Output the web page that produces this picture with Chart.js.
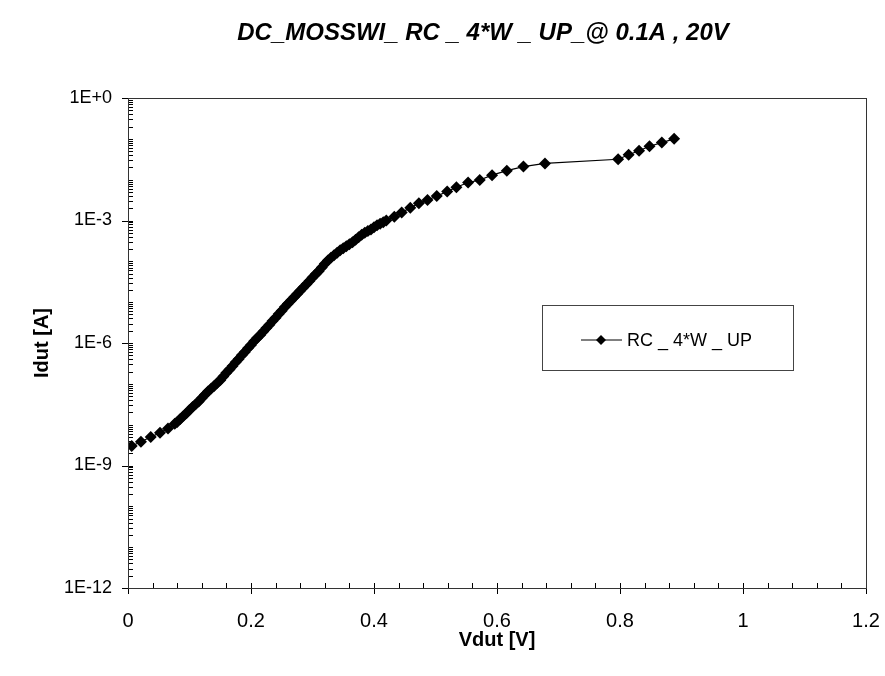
<!DOCTYPE html>
<html>
<head>
<meta charset="utf-8">
<script src="https://cdn.jsdelivr.net/npm/chart.js@4/dist/chart.umd.min.js"></script>
<style>
  body { margin: 0; background: #fff; }
  canvas { display: block; }
</style>
</head>
<body>
<canvas id="chart" width="885" height="676"></canvas>
<script>
const chartTitle = 'DC_MOSSWI_ RC _ 4*W _ UP_@ 0.1A , 20V';
const seriesName = 'RC _ 4*W _ UP';

// Vdut [V]
const vdut = [
  0.006, 0.021, 0.037, 0.052, 0.065, 0.076,
  0.080, 0.085, 0.090, 0.095, 0.100, 0.105, 0.110, 0.115, 0.120, 0.125,
  0.130, 0.135, 0.140, 0.145, 0.150, 0.155, 0.160, 0.165, 0.170, 0.175,
  0.180, 0.185, 0.190, 0.195, 0.200, 0.205, 0.210, 0.215, 0.220, 0.225,
  0.230, 0.235, 0.240, 0.245, 0.250, 0.255, 0.260, 0.265, 0.270, 0.275,
  0.280, 0.285, 0.290, 0.295, 0.300, 0.305, 0.310, 0.315, 0.320, 0.325,
  0.330, 0.335, 0.340, 0.345, 0.350, 0.355, 0.360, 0.365, 0.370, 0.375,
  0.380, 0.385, 0.390, 0.395, 0.400, 0.405, 0.410, 0.415, 0.420,
  0.433, 0.445, 0.459, 0.473, 0.487, 0.502, 0.519, 0.534, 0.553, 0.572,
  0.592, 0.616, 0.643, 0.678, 0.797, 0.814, 0.831, 0.848, 0.868, 0.888
];

// Idut [A]
const idut = [
  3.0e-9, 3.8e-9, 5.0e-9, 6.3e-9, 8.1e-9, 1.05e-8,
  1.17e-8, 1.38e-8, 1.62e-8, 1.9e-8, 2.29e-8, 2.7e-8, 3.16e-8, 3.7e-8, 4.47e-8, 5.4e-8,
  6.46e-8, 7.6e-8, 8.9e-8, 1.05e-7, 1.23e-7, 1.51e-7, 1.86e-7, 2.24e-7, 2.75e-7, 3.4e-7,
  4.07e-7, 5.0e-7, 6.0e-7, 7.4e-7, 8.9e-7, 1.1e-6, 1.32e-6, 1.58e-6, 1.9e-6, 2.34e-6,
  2.8e-6, 3.47e-6, 4.17e-6, 5.1e-6, 6.2e-6, 7.6e-6, 9.1e-6, 1.1e-5, 1.32e-5, 1.58e-5,
  1.9e-5, 2.3e-5, 2.75e-5, 3.3e-5, 4.0e-5, 4.8e-5, 5.75e-5, 7.1e-5, 8.7e-5, 1.05e-4,
  1.23e-4, 1.41e-4, 1.62e-4, 1.86e-4, 2.1e-4, 2.35e-4, 2.63e-4, 2.95e-4, 3.4e-4, 3.9e-4,
  4.47e-4, 5.0e-4, 5.5e-4, 6.0e-4, 6.8e-4, 7.6e-4, 8.3e-4, 9.1e-4, 1.0e-3,
  1.23e-3, 1.58e-3, 2.04e-3, 2.63e-3, 3.16e-3, 3.98e-3, 5.1e-3, 6.5e-3, 8.5e-3, 9.8e-3,
  1.29e-2, 1.66e-2, 2.09e-2, 2.5e-2, 3.16e-2, 4.07e-2, 5.1e-2, 6.6e-2, 8.1e-2, 1.0e-1
];

const xMin = 0, xMax = 1.2, xMajor = 0.2, xMinor = 0.04;
const yMinExp = -12, yMaxExp = 0, yLabelEvery = 3;

const font = 'Liberation Sans, Arial, sans-serif';

function isMultiple(v, step) {
  const r = v / step;
  return Math.abs(r - Math.round(r)) < 1e-6;
}

// tick marks: major ones cross the axis, minor ones point into the plot
const tickMarks = {
  id: 'tickMarks',
  afterDraw(chart) {
    const ctx = chart.ctx;
    const xs = chart.scales.x, ys = chart.scales.y;
    const area = chart.chartArea;
    ctx.save();
    ctx.strokeStyle = '#000';
    ctx.lineWidth = 1;
    ctx.beginPath();
    xs.ticks.forEach(t => {
      const px = Math.round(xs.getPixelForValue(t.value)) + 0.5;
      const major = isMultiple(t.value, xMajor);
      ctx.moveTo(px, area.bottom - 5);
      ctx.lineTo(px, area.bottom + (major ? 6 : 0));
    });
    ys.ticks.forEach(t => {
      const py = Math.round(ys.getPixelForValue(t.value)) + 0.5;
      const e = Math.log10(t.value);
      const decade = Math.abs(e - Math.round(e)) < 1e-6;
      const major = decade && Math.round(e) % yLabelEvery === 0;
      ctx.moveTo(area.left + 5, py);
      ctx.lineTo(area.left - (major ? 6 : 0), py);
    });
    ctx.stroke();
    // plot frame
    ctx.strokeStyle = '#333';
    ctx.strokeRect(Math.round(area.left) + 0.5, Math.round(area.top) + 0.5,
      Math.round(area.right - area.left), Math.round(area.bottom - area.top));
    ctx.restore();
  }
};

// title and boxed legend
const decorations = {
  id: 'decorations',
  afterDraw(chart) {
    const ctx = chart.ctx;
    ctx.save();
    ctx.fillStyle = '#000';
    ctx.font = 'italic bold 24px ' + font;
    ctx.textAlign = 'center';
    ctx.textBaseline = 'middle';
    ctx.fillText(chartTitle, 483, 33);

    const bx = 542, by = 305, bw = 251, bh = 65;
    ctx.fillStyle = '#fff';
    ctx.fillRect(bx, by, bw, bh);
    ctx.strokeStyle = '#444';
    ctx.lineWidth = 1;
    ctx.strokeRect(bx + 0.5, by + 0.5, bw, bh);

    const ly = by + 35;
    ctx.strokeStyle = '#000';
    ctx.beginPath();
    ctx.moveTo(581, ly);
    ctx.lineTo(622, ly);
    ctx.stroke();
    ctx.fillStyle = '#000';
    ctx.beginPath();
    ctx.moveTo(601, ly - 5);
    ctx.lineTo(606, ly);
    ctx.lineTo(601, ly + 5);
    ctx.lineTo(596, ly);
    ctx.closePath();
    ctx.fill();

    ctx.font = '18px ' + font;
    ctx.textAlign = 'left';
    ctx.fillText(chart.data.datasets[0].label, 627, ly + 1);
    ctx.restore();
  }
};

const points = vdut.map((v, i) => ({ x: v, y: idut[i] }));

new Chart(document.getElementById('chart'), {
  type: 'line',
  data: {
    datasets: [{
      label: seriesName,
      data: points,
      borderColor: '#000',
      borderWidth: 1.2,
      backgroundColor: '#000',
      pointStyle: 'rectRot',
      pointRadius: 6,
      pointBorderWidth: 0,
      pointBackgroundColor: '#000',
      tension: 0,
      fill: false
    }]
  },
  options: {
    responsive: false,
    animation: false,
    layout: { padding: { top: 98, right: 19, left: 0, bottom: 0 } },
    plugins: {
      legend: { display: false },
      title: { display: false },
      tooltip: { enabled: false }
    },
    scales: {
      x: {
        type: 'linear',
        min: xMin,
        max: xMax,
        afterBuildTicks(scale) {
          const ticks = [];
          for (let i = 0; i <= Math.round((xMax - xMin) / xMinor); i++) {
            ticks.push({ value: +(xMin + i * xMinor).toFixed(4) });
          }
          scale.ticks = ticks;
        },
        afterFit(scale) {
          scale.height = 88;
          // end labels may overhang; keep the plot edge fixed
          scale.paddingLeft = 0;
          scale.paddingRight = 0;
        },
        grid: { display: true, drawOnChartArea: false, drawTicks: false },
        border: { display: true, color: '#000', width: 1 },
        ticks: {
          autoSkip: false,
          maxRotation: 0,
          padding: 21,
          color: '#000',
          font: { family: font, size: 20 },
          callback: v => isMultiple(v, xMajor) ? String(parseFloat(v.toFixed(1))) : ''
        },
        title: {
          display: true,
          text: 'Vdut [V]',
          color: '#000',
          font: { family: font, size: 20, weight: 'bold' },
          padding: { top: 0, bottom: 24 }
        }
      },
      y: {
        type: 'logarithmic',
        min: Math.pow(10, yMinExp),
        max: Math.pow(10, yMaxExp),
        afterBuildTicks(scale) {
          const ticks = [];
          for (let e = yMinExp; e <= yMaxExp; e++) {
            for (let m = 1; m <= 9; m++) {
              if (e === yMaxExp && m > 1) break;
              ticks.push({ value: m * Math.pow(10, e) });
            }
          }
          scale.ticks = ticks;
        },
        afterFit(scale) {
          scale.width = 128;
          scale.paddingTop = 0;
          scale.paddingBottom = 0;
        },
        grid: { display: true, drawOnChartArea: false, drawTicks: false },
        border: { display: true, color: '#000', width: 1 },
        ticks: {
          autoSkip: false,
          padding: 16,
          color: '#000',
          font: { family: font, size: 18 },
          callback: v => {
            const e = Math.log10(v);
            if (Math.abs(e - Math.round(e)) > 1e-6) return '';
            const n = Math.round(e);
            if (n % yLabelEvery !== 0) return '';
            return n >= 0 ? '1E+' + n : '1E' + n;
          }
        },
        title: {
          display: true,
          text: 'Idut [A]',
          color: '#000',
          font: { family: font, size: 20, weight: 'bold' },
          padding: { top: 30, bottom: 0 }
        }
      }
    }
  },
  plugins: [tickMarks, decorations]
});
</script>
</body>
</html>
